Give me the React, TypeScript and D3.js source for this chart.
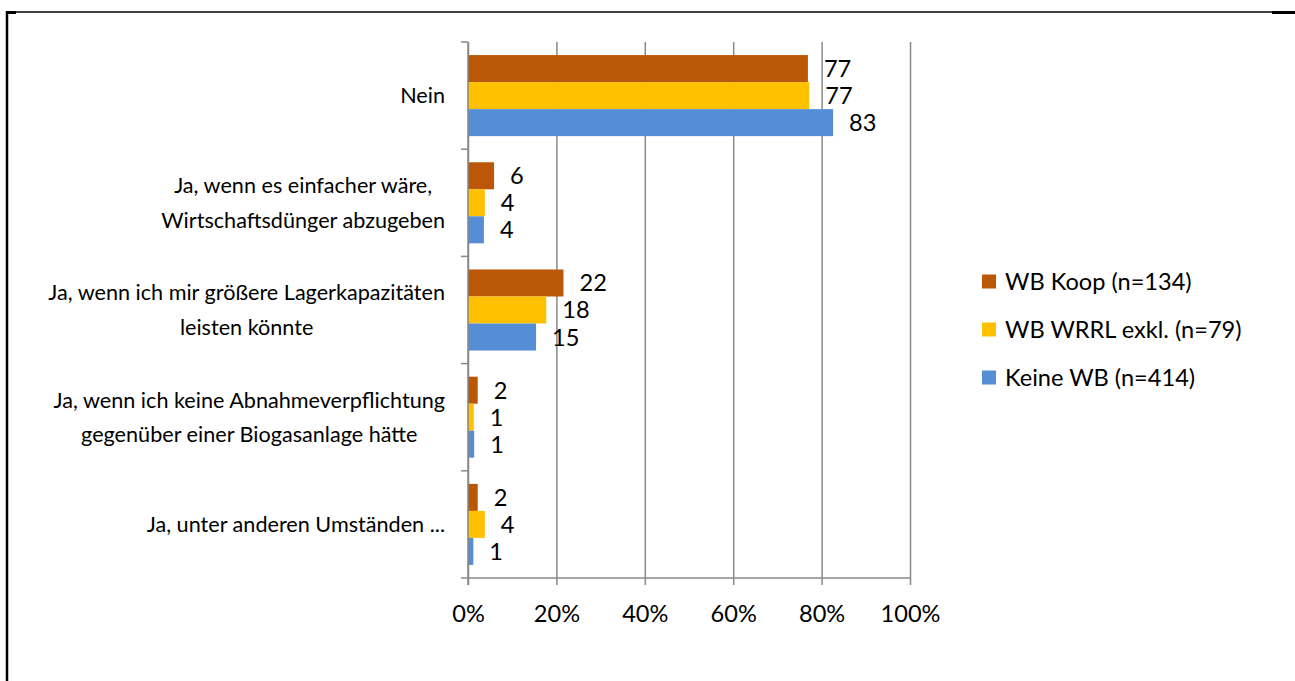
import React, { useEffect, useRef } from 'react';
import * as d3 from 'd3';

// Kategorien (Zeilen des Diagramms), mehrzeilig wie im Original
const categories = [
  'Nein',
  'Ja, wenn es einfacher wäre,\nWirtschaftsdünger abzugeben',
  'Ja, wenn ich mir größere Lagerkapazitäten\nleisten könnte',
  'Ja, wenn ich keine Abnahmeverpflichtung\ngegenüber einer Biogasanlage hätte',
  'Ja, unter anderen Umständen ...',
];

const seriesNames = ['WB Koop (n=134)', 'WB WRRL exkl. (n=79)', 'Keine WB (n=414)'];

// Anteile in Prozent
const koopValues = [76.9, 5.9, 21.6, 2.2, 2.2];
const wrrlValues = [77.2, 3.8, 17.7, 1.3, 3.8];
const keineValues = [82.6, 3.6, 15.4, 1.4, 1.2];

const xTicks = [0, 20, 40, 60, 80, 100];

const COLORS = ['#BB5808', '#FFC000', '#558ED5'];
const GRID = '#898989';
const FONT = 'Lato, "Noto Sans", sans-serif';

const W = 1295;
const H = 681;
const PLOT = { left: 468, right: 910, top: 42, bottom: 578 };

const App: React.FC = () => {
  const svgRef = useRef<SVGSVGElement>(null);

  useEffect(() => {
    const svg = d3.select(svgRef.current);
    svg.selectAll('*').remove();

    // Schriftgröße so anpassen, dass die Breiten etwa wie Calibri wirken
    const probe = svg.append('text').attr('font-family', FONT).attr('font-size', 100)
      .text('Ja, wenn ich mir größere Lagerkapazitäten');
    const probeW = (probe.node() as SVGTextElement).getComputedTextLength();
    probe.remove();
    const catSize = 100 * 397 / probeW;
    const bigSize = catSize * 12 / 11;

    const series = [koopValues, wrrlValues, keineValues];

    const x = d3.scaleLinear().domain([0, 100]).range([PLOT.left, PLOT.right]);
    const y = d3.scaleBand<string>().domain(categories).range([PLOT.top, PLOT.bottom]).paddingInner(0);
    const step = y.step();
    const inner = d3.scaleBand<number>().domain([0, 1, 2])
      .range([step * 0.122, step * 0.878]).padding(0);

    // Rahmen
    svg.append('line').attr('x1', 6).attr('x2', W).attr('y1', 12).attr('y2', 12)
      .attr('stroke', '#000').attr('stroke-width', 1.5);
    svg.append('line').attr('x1', 7).attr('x2', 7).attr('y1', 11).attr('y2', H)
      .attr('stroke', '#000').attr('stroke-width', 2.5);
    svg.append('rect').attr('x', 6).attr('y', 11).attr('width', 10).attr('height', 3).attr('fill', '#000');
    svg.append('rect').attr('x', 1272).attr('y', 11).attr('width', 23).attr('height', 3).attr('fill', '#000');

    // Gitternetz + x-Achse
    const xAxisG = svg.append('g').attr('transform', `translate(0,${PLOT.bottom + 7})`)
      .call(d3.axisBottom(x).tickValues(xTicks)
        .tickSize(-(PLOT.bottom + 7 - PLOT.top))
        .tickFormat(d => `${d}%`));
    xAxisG.select('.domain').remove();
    xAxisG.selectAll('line').attr('stroke', GRID).attr('stroke-width', 1.5);
    xAxisG.selectAll('text')
      .attr('y', 0).attr('dy', 0)
      .attr('transform', 'translate(0,37)')
      .attr('font-family', FONT).attr('font-size', bigSize).attr('fill', '#000');

    svg.append('line').attr('x1', PLOT.left - 7).attr('x2', PLOT.right)
      .attr('y1', PLOT.bottom).attr('y2', PLOT.bottom).attr('stroke', GRID).attr('stroke-width', 1.5);

    // Kategoriegrenzen (Teilstriche links)
    categories.forEach(c => {
      const yy = y(c)!;
      svg.append('line').attr('x1', PLOT.left - 7).attr('x2', PLOT.left)
        .attr('y1', yy).attr('y2', yy).attr('stroke', GRID).attr('stroke-width', 1.5);
    });

    // Balken und Beschriftungen
    categories.forEach((c, ci) => {
      series.forEach((vals, si) => {
        const v = vals[ci];
        const by = y(c)! + inner(si)!;
        svg.append('rect')
          .attr('x', x(0)).attr('y', by)
          .attr('width', x(v) - x(0)).attr('height', inner.bandwidth())
          .attr('fill', COLORS[si]);
        svg.append('text')
          .attr('x', x(v) + 16).attr('y', by + inner.bandwidth() / 2)
          .attr('dy', '0.36em')
          .attr('font-family', FONT).attr('font-size', bigSize).attr('fill', '#000')
          .text(Math.round(v));
      });
    });

    // linke Achsenlinie über den Balken
    svg.append('line').attr('x1', PLOT.left).attr('x2', PLOT.left)
      .attr('y1', PLOT.top).attr('y2', PLOT.bottom + 7).attr('stroke', GRID).attr('stroke-width', 1.5);

    // Kategorietexte: Block rechtsbündig, Zeilen darin zentriert
    const lineH = 34.5;
    const labelRight = 445;
    categories.forEach(c => {
      const lines = c.split('\n');
      const cy = y(c)! + step / 2;
      const texts = lines.map((ln, li) => svg.append('text')
        .attr('y', cy + (li - (lines.length - 1) / 2) * lineH)
        .attr('dy', '0.35em')
        .attr('text-anchor', 'middle')
        .attr('font-family', FONT).attr('font-size', catSize).attr('fill', '#000')
        .text(ln));
      const widths = texts.map(t => (t.node() as SVGTextElement).getComputedTextLength());
      const blockW = d3.max(widths) || 0;
      texts.forEach(t => t.attr('x', labelRight - blockW / 2));
    });

    // Legende
    const legend = svg.append('g');
    seriesNames.forEach((name, i) => {
      const ly = 281.5 + i * 48;
      legend.append('rect').attr('x', 982).attr('y', ly - 7).attr('width', 14).attr('height', 14)
        .attr('fill', COLORS[i]);
      legend.append('text').attr('x', 1005).attr('y', ly).attr('dy', '0.36em')
        .attr('font-family', FONT).attr('font-size', bigSize).attr('fill', '#000')
        .text(name);
    });
  }, []);

  return (
    <svg ref={svgRef} width={W} height={H}
      style={{ position: 'absolute', left: 0, top: 0, background: '#fff' }} />
  );
};

export default App;
